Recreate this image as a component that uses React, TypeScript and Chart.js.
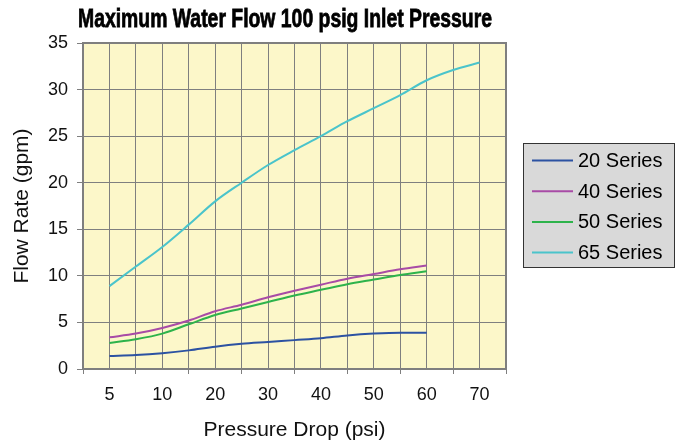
import React, { useEffect, useRef } from 'react';
import { Chart, registerables } from 'chart.js';

Chart.register(...registerables);

const chartTitle = 'Maximum Water Flow 100 psig Inlet Pressure';
const xAxisTitle = 'Pressure Drop (psi)';
const yAxisTitle = 'Flow Rate (gpm)';
const xTickLabels = ['5', '10', '20', '30', '40', '50', '60', '70'];
const xPositions = [0, 0.5, 1, 1.5, 2, 2.5, 3, 3.5, 4, 4.5, 5, 5.5, 6, 6.5, 7];
const seriesNames = ['20 Series', '40 Series', '50 Series', '65 Series'];
const seriesColors = ['#2C52A2', '#A84BA6', '#2DB34B', '#4AC4CB'];
const series20 = [1.4, 1.5, 1.7, 2.0, 2.4, 2.7, 2.9, 3.1, 3.3, 3.6, 3.8, 3.9, 3.9];
const series40 = [3.4, 3.8, 4.4, 5.2, 6.2, 6.9, 7.7, 8.4, 9.05, 9.7, 10.2, 10.7, 11.1];
const series50 = [2.8, 3.2, 3.8, 4.8, 5.8, 6.5, 7.2, 7.9, 8.5, 9.1, 9.6, 10.1, 10.5];
const series65 = [8.9, 11.0, 13.1, 15.5, 18.0, 20.0, 21.9, 23.5, 25.0, 26.6, 28.0, 29.4, 31.0, 32.1, 32.9];
const allSeries = [series20, series40, series50, series65];

const GRID = '#7F7F7F';
const FONT = '"Liberation Sans", Arial, Helvetica, sans-serif';

const decor = {
  id: 'decor',
  beforeDraw(chart: any) {
    const { ctx, chartArea: a } = chart;
    ctx.save();
    ctx.fillStyle = '#FCF7C9';
    ctx.fillRect(a.left, a.top, a.right - a.left, a.bottom - a.top);
    ctx.restore();
  },
  afterDraw(chart: any) {
    const { ctx, chartArea: a } = chart;
    ctx.save();
    // plot border
    ctx.strokeStyle = GRID;
    ctx.lineWidth = 2;
    ctx.strokeRect(a.left, a.top, a.right - a.left, a.bottom - a.top);

    // title (condensed heavy)
    ctx.font = 'bold 26px "Liberation Sans Narrow", "Liberation Sans", sans-serif';
    const w = ctx.measureText(chartTitle).width;
    const targetW = 414;
    ctx.translate(285, 27);
    ctx.scale(targetW / w, 1);
    ctx.fillStyle = '#000';
    ctx.strokeStyle = '#000';
    ctx.lineWidth = 0.8;
    ctx.textAlign = 'center';
    ctx.textBaseline = 'alphabetic';
    ctx.fillText(chartTitle, 0, 0);
    ctx.strokeText(chartTitle, 0, 0);
    ctx.setTransform(1, 0, 0, 1, 0, 0);

    // legend
    const lx = a.right + 17;
    const ly = 143;
    const lw = 152;
    const lh = 125;
    ctx.fillStyle = '#D9D9D9';
    ctx.fillRect(lx, ly, lw, lh);
    ctx.strokeStyle = '#333333';
    ctx.lineWidth = 1;
    ctx.strokeRect(lx + 0.5, ly + 0.5, lw - 1, lh - 1);
    ctx.font = '20px ' + FONT;
    ctx.textAlign = 'left';
    ctx.textBaseline = 'middle';
    chart.data.datasets.forEach((ds: any, i: number) => {
      const y = ly + 17.5 + i * 30.7;
      ctx.strokeStyle = ds.borderColor;
      ctx.lineWidth = 2;
      ctx.beginPath();
      ctx.moveTo(lx + 9, y);
      ctx.lineTo(lx + 50, y);
      ctx.stroke();
      ctx.fillStyle = '#000';
      ctx.fillText(ds.label, lx + 55, y + 1);
    });
    ctx.restore();
  },
};

export default function App() {
  const ref = useRef<HTMLCanvasElement>(null);
  useEffect(() => {
    if (!ref.current) return;
    const chart = new Chart(ref.current, {
      type: 'line',
      data: {
        datasets: allSeries.map((vals, i) => ({
          label: seriesNames[i],
          data: vals.map((v, j) => ({ x: xPositions[j], y: v })),
          borderColor: seriesColors[i],
          backgroundColor: seriesColors[i],
          borderWidth: 2,
          pointRadius: 0,
          tension: 0.4,
          cubicInterpolationMode: 'monotone',
          fill: false,
        })),
      },
      options: {
        animation: false,
        responsive: false,
        layout: { padding: { top: 43, right: 180, left: 0, bottom: 0 } },
        plugins: {
          legend: { display: false },
          title: { display: false },
          tooltip: { enabled: false },
        },
        scales: {
          x: {
            type: 'linear',
            min: -0.5,
            max: 7.5,
            afterFit: (s: any) => { s.height = 76; },
            ticks: {
              stepSize: 0.5,
              autoSkip: false,
              maxRotation: 0,
              padding: 10,
              color: '#111',
              font: { family: FONT, size: 18 },
              callback: (v: any) => {
                const n = Number(v);
                const r = Math.round(n);
                if (Math.abs(n - r) < 1e-6 && r >= 0 && r < xTickLabels.length) return xTickLabels[r];
                return '';
              },
            },
            grid: {
              color: GRID,
              lineWidth: 1,
              tickLength: 5,
              tickColor: (c: any) => {
                const v = c.tick ? c.tick.value : 0;
                return Math.abs(Math.round(v * 2)) % 2 === 1 ? GRID : 'rgba(0,0,0,0)';
              },
            },
            border: { color: GRID, width: 2 },
            title: {
              display: true,
              text: xAxisTitle,
              color: '#111',
              font: { family: FONT, size: 21 },
              padding: { top: 0, bottom: 2 },
            },
          },
          y: {
            min: 0,
            max: 35,
            afterFit: (s: any) => { s.width = 83; },
            ticks: {
              stepSize: 5,
              padding: 9,
              color: '#111',
              font: { family: FONT, size: 18 },
            },
            grid: { color: GRID, lineWidth: 1, tickLength: 6, tickColor: GRID },
            border: { color: GRID, width: 2 },
            title: {
              display: true,
              text: yAxisTitle,
              color: '#111',
              font: { family: FONT, size: 21 },
              padding: { top: 10, bottom: 0 },
            },
          },
        },
      },
      plugins: [decor],
    } as any);
    return () => chart.destroy();
  }, []);
  return (
    <div style={{ position: 'fixed', left: 0, top: 0, width: 686, height: 445, background: '#fff' }}>
      <canvas ref={ref} width={686} height={445} style={{ display: 'block' }} />
    </div>
  );
}
